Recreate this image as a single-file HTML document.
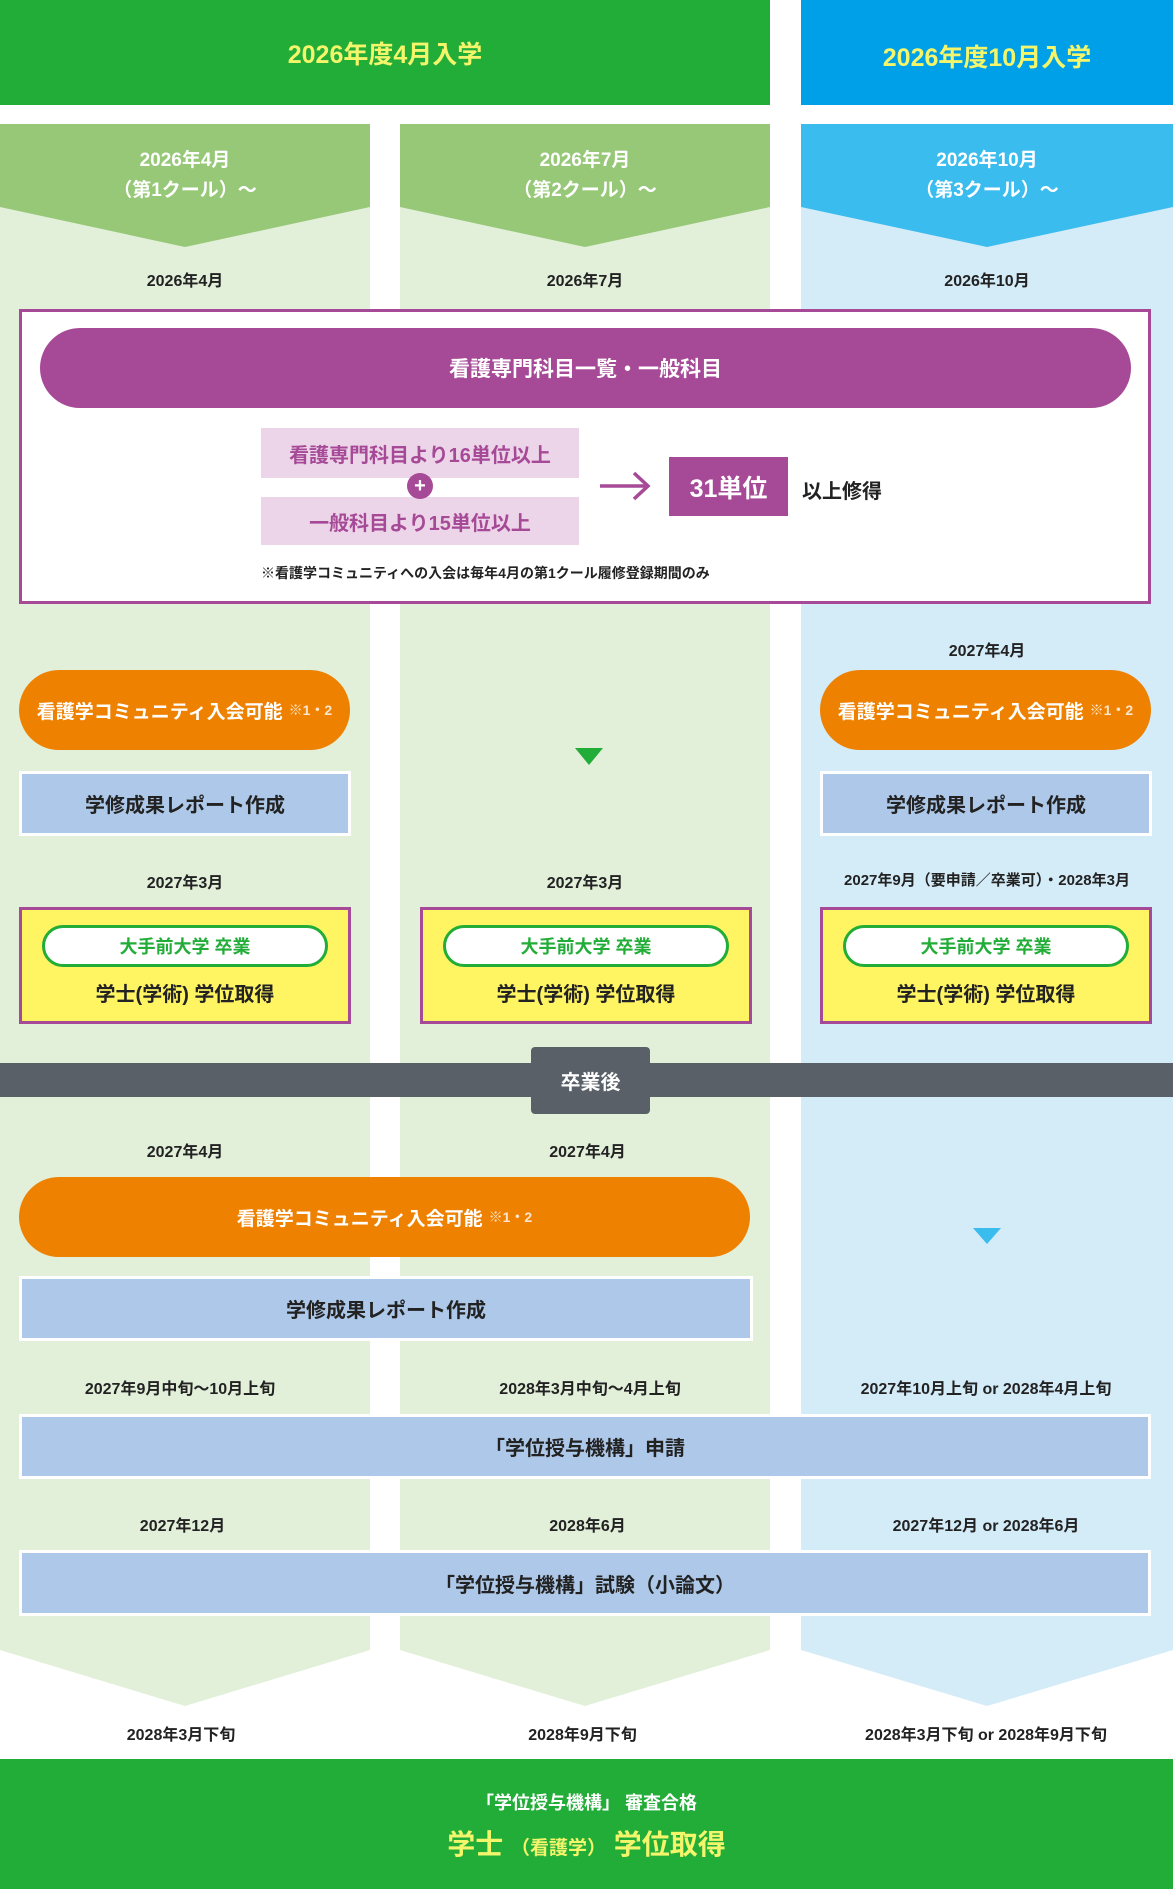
<!DOCTYPE html>
<html><head><meta charset="utf-8">
<style>
*{margin:0;padding:0;box-sizing:border-box}
body{width:1173px;height:1889px;position:relative;background:#fff;font-family:"Liberation Sans","Noto Sans CJK JP",sans-serif;font-weight:bold;overflow:hidden}
.a{position:absolute}
.c{display:flex;align-items:center;justify-content:center;text-align:center}
.d{position:absolute;font-size:16px;color:#222;text-align:center}
.rep{position:absolute;background:#adc8e8;border:3px solid #fff;font-size:20px;color:#222;display:flex;align-items:center;justify-content:center}
.or{position:absolute;background:#ee8100;border-radius:40px;color:#fff;font-size:19px;display:flex;align-items:center;justify-content:center}
.or small{font-size:14px;opacity:.8;margin-left:6px}
.yb{position:absolute;background:#fff462;border:3px solid #a64a97}
.yb .p{position:absolute;left:20px;right:20px;top:15px;height:42px;background:#fff;border:3px solid #22ac38;border-radius:22px;color:#22ac38;font-size:18px;display:flex;align-items:center;justify-content:center}
.yb .t{position:absolute;left:0;right:0;top:68px;text-align:center;font-size:20px;color:#222}
</style></head><body>
<div class="a c" style="left:0;top:0;width:770px;height:105px;background:#22ac38;color:#f3f56b;font-size:25px">2026年度4月入学</div>
<div class="a c" style="left:801px;top:0;width:372px;height:105px;background:#00a0e9;color:#f3f56b;font-size:25px;padding-top:6px">2026年度10月入学</div>
<svg class="a" style="left:0;top:0" width="1173" height="1889">
<polygon points="0,124 370,124 370,1650 185,1706 0,1650" fill="#e2efd9"/>
<polygon points="400,124 770,124 770,1650 585,1706 400,1650" fill="#e2efd9"/>
<polygon points="801,124 1173,124 1173,1650 987,1706 801,1650" fill="#d4ebf8"/>
<polygon points="0,124 370,124 370,207 185,247 0,207" fill="#96c878"/>
<polygon points="400,124 770,124 770,207 585,247 400,207" fill="#96c878"/>
<polygon points="801,124 1173,124 1173,207 987,247 801,207" fill="#3bbcee"/>
<polygon points="575,748 603,748 589,765" fill="#22ac38"/>
<polygon points="973,1228 1001,1228 987,1244" fill="#3bbcee"/>
</svg>
<div class="a" style="left:0;top:146px;width:370px;text-align:center;color:#fff;font-size:19px;line-height:30px">2026年4月<br>（第1クール）～</div>
<div class="a" style="left:400px;top:146px;width:370px;text-align:center;color:#fff;font-size:19px;line-height:30px">2026年7月<br>（第2クール）～</div>
<div class="a" style="left:801px;top:146px;width:372px;text-align:center;color:#fff;font-size:19px;line-height:30px">2026年10月<br>（第3クール）～</div>
<div class="d" style="left:0;top:267px;width:370px">2026年4月</div>
<div class="d" style="left:400px;top:267px;width:370px">2026年7月</div>
<div class="d" style="left:801px;top:267px;width:372px">2026年10月</div>

<div class="a" style="left:19px;top:309px;width:1132px;height:295px;background:#fff;border:3px solid #a64a97"></div>
<div class="a c" style="left:40px;top:328px;width:1091px;height:80px;background:#a64a97;border-radius:40px;color:#fff;font-size:21px">看護専門科目一覧・一般科目</div>
<div class="a c" style="left:261px;top:428px;width:318px;height:50px;background:#ecd5e8;color:#a64a97;font-size:20px">看護専門科目より16単位以上</div>
<div class="a c" style="left:261px;top:497px;width:318px;height:48px;background:#ecd5e8;color:#a64a97;font-size:20px">一般科目より15単位以上</div>
<div class="a c" style="left:407px;top:473px;width:26px;height:26px;border-radius:50%;background:#a64a97;color:#fff;font-size:20px;line-height:1">+</div>
<svg class="a" style="left:598px;top:470px" width="54" height="32"><path d="M2,16 H50 M36,3 L50,16 L36,29" stroke="#a64a97" stroke-width="3.5" fill="none"/></svg>
<div class="a c" style="left:669px;top:457px;width:119px;height:59px;background:#a64a97;color:#fff;font-size:25px">31単位</div>
<div class="a" style="left:802px;top:475px;font-size:20px;color:#222">以上修得</div>
<div class="a" style="left:261px;top:563px;font-size:14px;color:#222">※看護学コミュニティへの入会は毎年4月の第1クール履修登録期間のみ</div>

<div class="d" style="left:801px;top:637px;width:372px">2027年4月</div>
<div class="or" style="left:19px;top:670px;width:331px;height:80px">看護学コミュニティ入会可能<small>※1・2</small></div>
<div class="or" style="left:820px;top:670px;width:331px;height:80px">看護学コミュニティ入会可能<small>※1・2</small></div>
<div class="rep" style="left:19px;top:771px;width:332px;height:65px">学修成果レポート作成</div>
<div class="rep" style="left:820px;top:771px;width:332px;height:65px">学修成果レポート作成</div>
<div class="d" style="left:0;top:869px;width:370px">2027年3月</div>
<div class="d" style="left:400px;top:869px;width:370px">2027年3月</div>
<div class="d" style="left:801px;top:869px;width:372px;font-size:15px">2027年9月（要申請／卒業可）・2028年3月</div>
<div class="yb" style="left:19px;top:907px;width:332px;height:117px"><div class="p">大手前大学 卒業</div><div class="t">学士(学術) 学位取得</div></div>
<div class="yb" style="left:420px;top:907px;width:332px;height:117px"><div class="p">大手前大学 卒業</div><div class="t">学士(学術) 学位取得</div></div>
<div class="yb" style="left:820px;top:907px;width:332px;height:117px"><div class="p">大手前大学 卒業</div><div class="t">学士(学術) 学位取得</div></div>

<div class="a" style="left:0;top:1063px;width:1173px;height:34px;background:#5a6068"></div>
<div class="a c" style="left:531px;top:1047px;width:119px;height:67px;background:#5a6068;border-radius:4px;color:#fff;font-size:20px">卒業後</div>

<div class="d" style="left:0;top:1138px;width:370px">2027年4月</div>
<div class="d" style="left:400px;top:1138px;width:375px">2027年4月</div>
<div class="or" style="left:19px;top:1177px;width:731px;height:80px">看護学コミュニティ入会可能<small>※1・2</small></div>
<div class="rep" style="left:19px;top:1276px;width:734px;height:65px">学修成果レポート作成</div>
<div class="d" style="left:0;top:1375px;width:360px">2027年9月中旬～10月上旬</div>
<div class="d" style="left:400px;top:1375px;width:380px">2028年3月中旬～4月上旬</div>
<div class="d" style="left:801px;top:1375px;width:370px">2027年10月上旬 or 2028年4月上旬</div>
<div class="rep" style="left:19px;top:1414px;width:1132px;height:65px">「学位授与機構」申請</div>
<div class="d" style="left:0;top:1512px;width:365px">2027年12月</div>
<div class="d" style="left:400px;top:1512px;width:375px">2028年6月</div>
<div class="d" style="left:801px;top:1512px;width:370px">2027年12月 or 2028年6月</div>
<div class="rep" style="left:19px;top:1550px;width:1132px;height:66px">「学位授与機構」試験（小論文）</div>
<div class="d" style="left:0;top:1721px;width:362px">2028年3月下旬</div>
<div class="d" style="left:400px;top:1721px;width:365px">2028年9月下旬</div>
<div class="d" style="left:801px;top:1721px;width:370px">2028年3月下旬 or 2028年9月下旬</div>

<div class="a" style="left:0;top:1759px;width:1173px;height:130px;background:#22ac38"></div>
<div class="a" style="left:0;top:1789px;width:1173px;text-align:center;color:#fff;font-size:18px">「学位授与機構」 審査合格</div>
<div class="a" style="left:0;top:1823px;width:1173px;text-align:center;color:#f3f56b;font-size:28px">学士 <span style="font-size:19px">（看護学）</span> 学位取得</div>
</body></html>
